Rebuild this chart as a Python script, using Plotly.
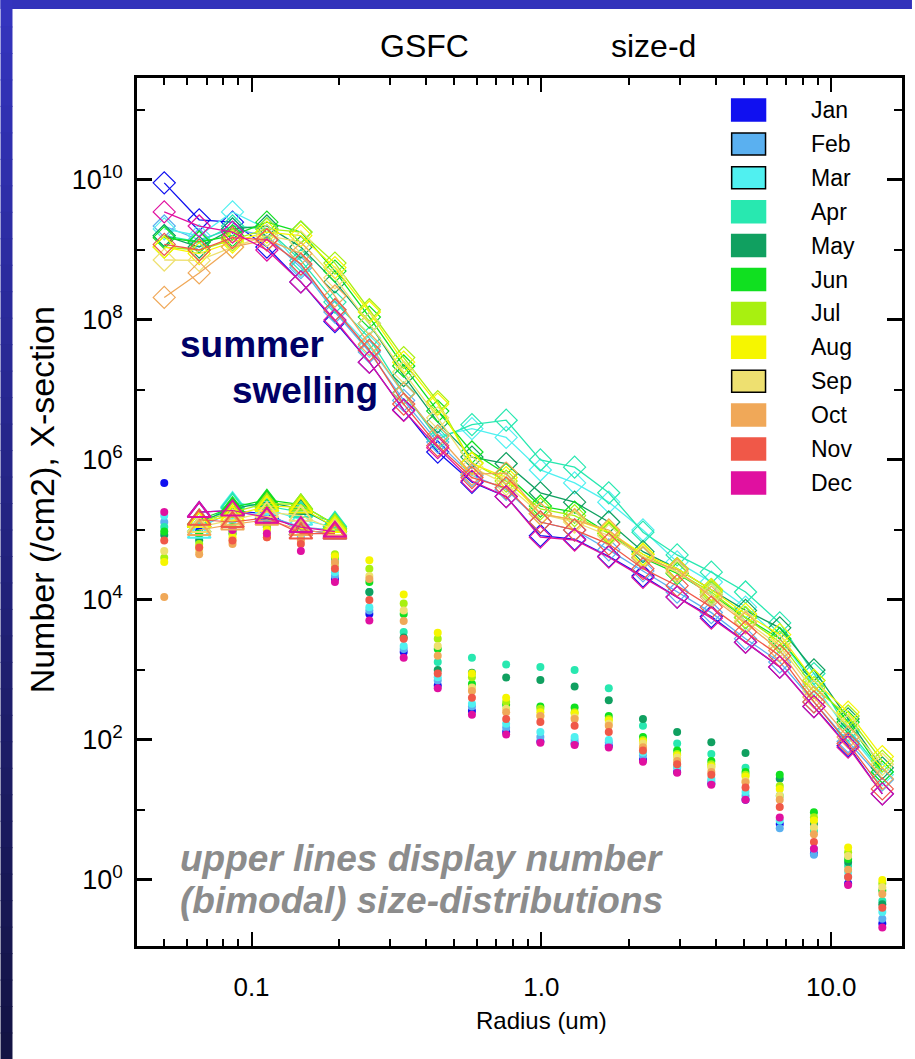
import plotly.graph_objects as go

# ---------------- data ----------------
radius = [0.050, 0.066, 0.086, 0.113, 0.148, 0.194, 0.255, 0.335, 0.439, 0.576, 0.756,
          0.992, 1.302, 1.708, 2.241, 2.940, 3.857, 5.061, 6.641, 8.713, 11.432, 15.0]

months = ["Jan", "Feb", "Mar", "Apr", "May", "Jun", "Jul", "Aug", "Sep", "Oct", "Nov", "Dec"]
month_colors = ["#1010f0", "#5ab0f0", "#50f0f0", "#28e8b0", "#10a060", "#10e020",
                "#a8f010", "#f6f600", "#eee070", "#f0a858", "#f05848", "#e010a0"]
boxed_months = ["Feb", "Mar", "Sep"]

# upper lines: number size distribution (diamonds)
num_jan = [9.1e9, 2.7e9, 2.5e9, 1.1e9, 3.5e8, 9.5e7, 2.5e7, 5.2e6, 1.3e6, 4.8e5, 3.0e5, 8.3e4, 7.4e4, 4.2e4, 2.2e4, 1.1e4, 5.8e3, 2.5e3, 1.1e3, 3.0e2, 83, 17]
num_feb = [2.2e9, 1.4e9, 2.0e9, 1.6e9, 5.6e8, 1.3e8, 3.5e7, 7.1e6, 1.8e6, 6.0e5, 3.8e5, 1.3e5, 1.0e5, 5.2e4, 2.6e4, 1.3e4, 6.6e3, 2.8e3, 1.3e3, 3.5e2, 95, 27]
num_mar = [2.0e9, 1.6e9, 3.5e9, 2.0e9, 6.0e8, 1.4e8, 4.2e7, 8.9e6, 2.2e6, 2.8e6, 2.1e6, 7.2e5, 4.7e5, 2.5e5, 1.0e5, 3.5e4, 1.8e4, 7.9e3, 2.8e3, 6.3e2, 1.3e2, 32]
num_apr = [1.6e9, 1.3e9, 2.2e9, 2.0e9, 7.1e8, 1.8e8, 5.5e7, 9.1e6, 2.0e6, 3.2e6, 3.7e6, 1.0e6, 7.9e5, 3.4e5, 9.3e4, 4.4e4, 2.5e4, 1.3e4, 4.7e3, 8.9e2, 1.4e2, 35]
num_may = [1.6e9, 1.1e9, 2.0e9, 2.2e9, 1.1e9, 3.5e8, 8.9e7, 1.6e7, 3.5e6, 1.1e6, 8.9e5, 3.4e5, 2.5e5, 1.3e5, 4.9e4, 2.8e4, 1.4e4, 7.1e3, 4.0e3, 1.0e3, 2.0e2, 40]
num_jun = [1.5e9, 1.3e9, 1.6e9, 2.5e9, 1.8e9, 5.0e8, 1.1e8, 2.2e7, 5.0e6, 1.3e6, 6.3e5, 2.2e5, 1.8e5, 8.9e4, 4.0e4, 2.4e4, 1.2e4, 5.6e3, 2.8e3, 7.1e2, 1.8e2, 35]
num_jul = [1.1e9, 1.0e9, 1.4e9, 2.0e9, 1.8e9, 6.5e8, 1.4e8, 2.9e7, 6.8e6, 9.1e5, 5.0e5, 2.0e5, 1.6e5, 8.9e4, 4.5e4, 2.5e4, 1.3e4, 5.6e3, 2.5e3, 5.6e2, 2.2e2, 50]
num_aug = [1.1e9, 8.9e8, 1.3e9, 1.8e9, 1.6e9, 5.6e8, 1.3e8, 2.5e7, 6.3e6, 8.9e5, 5.6e5, 1.7e5, 1.4e5, 9.5e4, 4.5e4, 2.8e4, 1.4e4, 6.3e3, 3.2e3, 7.1e2, 2.5e2, 58]
num_sep = [7.2e8, 7.1e8, 1.1e9, 1.6e9, 1.3e9, 4.0e8, 8.9e7, 1.8e7, 4.0e6, 7.9e5, 4.5e5, 1.7e5, 1.3e5, 8.3e4, 4.2e4, 2.5e4, 1.2e4, 5.0e3, 2.2e3, 5.0e2, 1.6e2, 45]
num_oct = [2.1e8, 4.7e8, 1.1e9, 1.4e9, 8.9e8, 2.2e8, 4.5e7, 8.9e6, 2.2e6, 6.3e5, 6.5e5, 1.7e5, 1.4e5, 1.0e5, 4.0e4, 2.7e4, 1.1e4, 4.7e3, 1.9e3, 4.1e2, 1.1e2, 28]
num_nov = [1.2e9, 1.0e9, 1.5e9, 1.4e9, 6.3e8, 1.4e8, 3.7e7, 6.3e6, 1.6e6, 5.6e5, 4.0e5, 1.3e5, 1.0e5, 6.3e4, 2.8e4, 1.6e4, 7.9e3, 3.5e3, 1.6e3, 3.5e2, 89, 20]
num_dec = [3.5e9, 2.2e9, 1.8e9, 1.0e9, 3.5e8, 1.0e8, 2.5e7, 5.1e6, 1.5e6, 5.0e5, 3.0e5, 7.9e4, 7.2e4, 4.1e4, 2.1e4, 1.1e4, 5.5e3, 2.5e3, 1.1e3, 3.0e2, 79, 17]

# lower dots: cross-section
xs_jan = [4.7e5, 1.0e5, 1.0e5, 1.1e5, 8.9e4, 2.0e4, 6.3e3, 1.8e3, 6.0e2, 2.6e2, 1.3e2, 95, 89, 83, 52, 35, 24, 14, 6.3, 2.4, 0.89, 0.24]
xs_feb = [1.3e5, 7.9e4, 1.1e5, 1.0e5, 7.9e4, 2.2e4, 7.1e3, 2.0e3, 7.1e2, 3.0e2, 1.5e2, 1.1e2, 1.0e2, 93, 60, 40, 26, 16, 5.5, 2.3, 1.1, 0.28]
xs_mar = [1.6e5, 8.9e4, 1.3e5, 1.1e5, 1.0e5, 2.5e4, 7.9e3, 2.2e3, 7.9e2, 3.3e2, 1.7e2, 1.3e2, 1.1e2, 1.0e2, 66, 42, 28, 18, 7.1, 2.8, 1.3, 0.35]
xs_apr = [1.1e5, 7.9e4, 1.0e5, 1.3e5, 1.1e5, 3.5e4, 1.3e4, 3.5e3, 1.3e3, 1.5e3, 1.2e3, 1.1e3, 1.0e3, 5.5e2, 1.6e2, 89, 63, 40, 16, 5.0, 1.6, 0.50]
xs_may = [8.5e4, 7.1e4, 8.9e4, 1.1e5, 1.0e5, 3.2e4, 1.3e4, 2.9e3, 1.0e3, 9.1e2, 7.8e2, 7.2e2, 5.8e2, 3.7e2, 2.0e2, 1.3e2, 93, 65, 28, 6.3, 1.8, 0.45]
xs_jun = [9.5e4, 8.9e4, 1.1e5, 1.3e5, 1.1e5, 4.0e4, 1.8e4, 6.3e3, 2.0e3, 6.3e2, 3.2e2, 3.0e2, 2.9e2, 2.2e2, 1.1e2, 71, 50, 35, 32, 9.3, 2.0, 0.71]
xs_jul = [4.0e4, 6.3e4, 8.9e4, 1.1e5, 1.3e5, 4.5e4, 2.8e4, 8.9e3, 2.8e3, 7.9e2, 3.5e2, 2.8e2, 2.5e2, 2.0e2, 1.0e2, 63, 45, 32, 22, 7.9, 2.5, 0.89]
xs_aug = [3.5e4, 5.6e4, 7.9e4, 1.0e5, 1.1e5, 4.2e4, 3.7e4, 1.2e4, 3.4e3, 8.9e2, 4.0e2, 2.5e2, 2.4e2, 1.9e2, 95, 60, 42, 30, 20, 7.1, 2.9, 1.0]
xs_sep = [5.0e4, 5.0e4, 7.1e4, 8.9e4, 8.9e4, 3.2e4, 2.2e4, 7.1e3, 2.2e3, 5.6e2, 2.8e2, 2.2e2, 2.1e2, 1.7e2, 89, 56, 40, 26, 16, 5.6, 2.2, 0.79]
xs_oct = [1.1e4, 4.5e4, 6.3e4, 7.9e4, 7.1e4, 3.5e4, 2.0e4, 5.0e3, 1.6e3, 5.0e2, 2.5e2, 2.2e2, 2.0e2, 1.6e2, 79, 50, 35, 25, 14, 4.5, 1.4, 0.63]
xs_nov = [7.1e4, 5.6e4, 7.1e4, 7.9e4, 6.3e4, 2.8e4, 1.0e4, 2.8e3, 8.9e2, 4.0e2, 2.0e2, 1.8e2, 1.6e2, 1.3e2, 71, 45, 32, 21, 11, 3.5, 1.1, 0.40]
xs_dec = [1.8e5, 1.3e5, 1.0e5, 8.9e4, 5.0e4, 1.8e4, 5.1e3, 1.5e3, 5.5e2, 2.3e2, 1.2e2, 91, 85, 78, 49, 34, 23, 14, 7.8, 2.8, 0.85, 0.21]

# lower open triangles (radius bins 0.066 - 0.194)
tri_radius = [0.066, 0.086, 0.113, 0.148, 0.194]
tri_jan = [1.8e5, 1.9e5, 1.7e5, 1.0e5, 8.9e4]
tri_feb = [1.1e5, 1.8e5, 1.6e5, 1.1e5, 1.0e5]
tri_mar = [9.1e4, 2.5e5, 2.0e5, 1.4e5, 1.1e5]
tri_apr = [1.1e5, 2.4e5, 2.2e5, 1.8e5, 1.3e5]
tri_may = [1.3e5, 2.0e5, 2.5e5, 2.0e5, 1.1e5]
tri_jun = [1.4e5, 2.1e5, 2.7e5, 2.3e5, 1.2e5]
tri_jul = [1.3e5, 1.8e5, 2.4e5, 2.3e5, 1.2e5]
tri_aug = [1.3e5, 1.6e5, 2.2e5, 2.1e5, 1.1e5]
tri_sep = [1.1e5, 1.4e5, 1.8e5, 1.6e5, 1.0e5]
tri_oct = [1.0e5, 1.2e5, 1.4e5, 1.0e5, 8.9e4]
tri_nov = [1.4e5, 1.3e5, 1.5e5, 8.9e4, 8.9e4]
tri_dec = [1.8e5, 1.9e5, 1.5e5, 1.1e5, 9.5e4]

x_tickvals = [0.1, 1.0, 10.0]
x_ticktext = ["0.1", "1.0", "10.0"]
y_label_exponents = [0, 2, 4, 6, 8, 10]
y_odd_exponents = [-1, 1, 3, 5, 7, 9, 11]

num_series = [num_jan, num_feb, num_mar, num_apr, num_may, num_jun,
              num_jul, num_aug, num_sep, num_oct, num_nov, num_dec]
xs_series = [xs_jan, xs_feb, xs_mar, xs_apr, xs_may, xs_jun,
             xs_jul, xs_aug, xs_sep, xs_oct, xs_nov, xs_dec]
tri_series = [tri_jan, tri_feb, tri_mar, tri_apr, tri_may, tri_jun,
              tri_jul, tri_aug, tri_sep, tri_oct, tri_nov, tri_dec]

# ---------------- layout geometry ----------------
FIG_W, FIG_H = 915, 1059
ML, MR, MT, MB = 137, 10, 78, 113
PW, PH = FIG_W - ML - MR, FIG_H - MT - MB


def px(x):
    return (x - ML) / PW


def py(y):
    return 1 - (y - MT) / PH


NARROW = "Liberation Sans Narrow, Arial Narrow, Liberation Sans, Arial, sans-serif"
SANS = "Liberation Sans, Arial, sans-serif"

fig = go.Figure()

# cross-section dots
for m, c, ys in zip(months, month_colors, xs_series):
    fig.add_trace(go.Scatter(x=radius, y=ys, mode="markers", name=m + " x-section",
                             marker=dict(symbol="circle", size=8, color=c),
                             showlegend=False))

# triangles
for m, c, ys in zip(months, month_colors, tri_series):
    fig.add_trace(go.Scatter(x=tri_radius, y=ys, mode="lines+markers", name=m + " tri",
                             line=dict(color=c, width=1.2),
                             marker=dict(symbol="triangle-up-open", size=20, color=c,
                                         line=dict(width=2, color=c)),
                             showlegend=False))

# number size distributions
for m, c, ys in zip(months, month_colors, num_series):
    fig.add_trace(go.Scatter(x=radius, y=ys, mode="lines+markers", name=m,
                             line=dict(color=c, width=1.3),
                             marker=dict(symbol="diamond-open", size=17, color=c,
                                         line=dict(width=1.2, color=c)),
                             showlegend=False))

shapes = []
annotations = []

# slide background strips (blue frame)
shapes.append(dict(type="rect", xref="paper", yref="paper", layer="below",
                   x0=px(0), x1=px(FIG_W), y0=py(0), y1=py(9),
                   fillcolor="#3333bb", line=dict(width=0)))
n_strip = 40
for k in range(n_strip):
    t = k / (n_strip - 1)
    r = int(0x34 + (0x14 - 0x34) * t)
    g = int(0x34 + (0x14 - 0x34) * t)
    b = int(0xbe + (0x44 - 0xbe) * t)
    y0 = FIG_H * k / n_strip
    y1 = FIG_H * (k + 1) / n_strip + 1
    shapes.append(dict(type="rect", xref="paper", yref="paper", layer="below",
                       x0=px(0), x1=px(12), y0=py(y0), y1=py(y1),
                       fillcolor=f"rgb({r},{g},{b})", line=dict(width=0)))

# legend boxes + labels
for i, (m, c) in enumerate(zip(months, month_colors)):
    yc = 110 + i * 33.9
    edge = "#000000" if m in boxed_months else c
    shapes.append(dict(type="rect", xref="paper", yref="paper",
                       x0=px(734), x1=px(768), y0=py(yc - 11), y1=py(yc + 11),
                       fillcolor=c, line=dict(color=edge, width=1.5)))
    annotations.append(dict(x=px(812), y=py(yc), xref="paper", yref="paper",
                            text=m, showarrow=False, xanchor="left", yanchor="middle",
                            font=dict(family=NARROW, size=23, color="#000000")))

# title
annotations.append(dict(x=px(426), y=py(46), xref="paper", yref="paper", text="GSFC",
                        showarrow=False, xanchor="center", yanchor="middle",
                        font=dict(family=NARROW, size=32, color="#000000")))
annotations.append(dict(x=px(656), y=py(46), xref="paper", yref="paper", text="size-d",
                        showarrow=False, xanchor="center", yanchor="middle",
                        font=dict(family=NARROW, size=32, color="#000000")))

# axis titles
annotations.append(dict(x=px(42), y=py(500), xref="paper", yref="paper",
                        text="Number (/cm2), X-section", textangle=-90,
                        showarrow=False, xanchor="center", yanchor="middle",
                        font=dict(family=SANS, size=34, color="#000000")))
annotations.append(dict(x=px(543), y=py(1020), xref="paper", yref="paper",
                        text="Radius (um)", showarrow=False, xanchor="center", yanchor="middle",
                        font=dict(family=NARROW, size=24, color="#000000")))

# slide annotations
annotations.append(dict(x=px(178), y=py(345), xref="paper", yref="paper", text="<b>summer</b>",
                        showarrow=False, xanchor="left", yanchor="middle",
                        font=dict(family=SANS, size=37, color="#000066")))
annotations.append(dict(x=px(230), y=py(390), xref="paper", yref="paper", text="<b>swelling</b>",
                        showarrow=False, xanchor="left", yanchor="middle",
                        font=dict(family=SANS, size=37, color="#000066")))
annotations.append(dict(x=px(178), y=py(858), xref="paper", yref="paper",
                        text="<b><i>upper lines display number</i></b>",
                        showarrow=False, xanchor="left", yanchor="middle",
                        font=dict(family=SANS, size=37, color="#8c8c8c")))
annotations.append(dict(x=px(178), y=py(900), xref="paper", yref="paper",
                        text="<b><i>(bimodal) size-distributions</i></b>",
                        showarrow=False, xanchor="left", yanchor="middle",
                        font=dict(family=SANS, size=37, color="#8c8c8c")))

x_minor = [0.05, 0.06, 0.07, 0.08, 0.09, 0.2, 0.3, 0.4, 0.5, 0.6, 0.7, 0.8, 0.9,
           2, 3, 4, 5, 6, 7, 8, 9]

fig.update_layout(
    width=FIG_W, height=FIG_H,
    margin=dict(l=ML, r=MR, t=MT, b=MB),
    paper_bgcolor="#ffffff", plot_bgcolor="#ffffff",
    showlegend=False,
    shapes=shapes, annotations=annotations,
    xaxis=dict(type="log", range=[-1.395, 1.244], showgrid=False, zeroline=False,
               showline=True, linecolor="#000000", linewidth=2.5, mirror="allticks",
               ticks="inside", ticklen=14, tickwidth=2, tickcolor="#000000",
               tickmode="array", tickvals=x_tickvals, ticktext=x_ticktext,
               ticklabelstandoff=16,
               tickfont=dict(family=NARROW, size=26, color="#000000"),
               minor=dict(ticks="inside", ticklen=7, tickwidth=1.5, tickcolor="#000000",
                          tickmode="array", tickvals=x_minor, showgrid=False)),
    yaxis=dict(type="log", range=[-0.943, 11.457], showgrid=False, zeroline=False,
               showline=True, linecolor="#000000", linewidth=2.5, mirror="allticks",
               ticks="inside", ticklen=15, tickwidth=2.5, tickcolor="#000000",
               tickmode="array", tickvals=[10.0 ** e for e in y_label_exponents],
               ticktext=[f"10<sup>{e}</sup>" for e in y_label_exponents],
               ticklabelstandoff=6,
               tickfont=dict(family=NARROW, size=27, color="#000000"),
               minor=dict(ticks="inside", ticklen=8, tickwidth=2, tickcolor="#000000",
                          tickmode="array", tickvals=[10.0 ** e for e in y_odd_exponents],
                          showgrid=False)),
)

fig.write_html("out.html")
